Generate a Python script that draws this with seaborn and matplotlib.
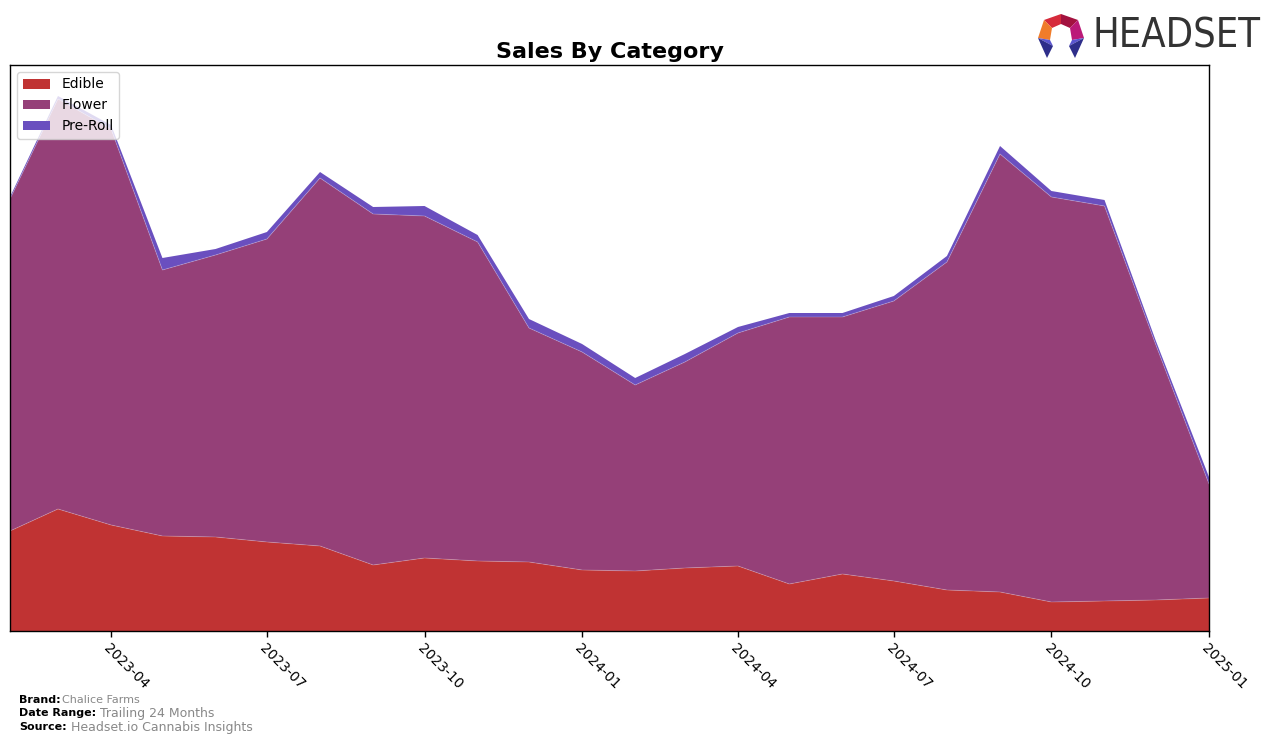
import pandas as pd
import numpy as np
import matplotlib
matplotlib.use("Agg")
import matplotlib.pyplot as plt
from matplotlib.patches import Polygon
import seaborn as sns

# monthly values (arbitrary units)
months = pd.date_range("2023-02-01", "2025-01-01", freq="MS")
edible = [100, 122, 106, 95, 94, 89, 85, 66, 73, 70, 69, 61,
          60, 63, 65, 47, 57, 50, 41, 39, 29, 30, 31, 33]
flower = [332, 410, 396, 266, 282, 303, 368, 351, 342, 319, 234, 218,
          186, 206, 233, 267, 257, 280, 328, 438, 405, 395, 255, 114]
preroll = [2, 3, 4, 12, 6, 7, 6, 7, 10, 7, 9, 8,
           7, 8, 6, 4, 4, 5, 6, 8, 6, 6, 4, 7]
categories = ["Edible", "Flower", "Pre-Roll"]
colors = ["#c03333", "#954078", "#6a4fbf"]

W, H = 1276, 743
sns.set_style("ticks", {"axes.edgecolor": "black", "xtick.color": "black",
                        "text.color": "black", "axes.labelcolor": "black"})
plt.rcParams["font.family"] = ["DejaVu Sans"]

fig = plt.figure(figsize=(W / 100, H / 100), dpi=100)
ax = fig.add_axes([10 / W, 1 - 631 / H, (1209 - 10) / W, (631 - 65) / H])

ax.stackplot(months, edible, flower, preroll, labels=categories, colors=colors,
             linewidth=0, edgecolor="none")

# faint seams between the layers
df = pd.DataFrame({"month": months, "Edible": edible, "Flower": flower, "Pre-Roll": preroll})
df["c1"] = df["Edible"]
df["c2"] = df["Edible"] + df["Flower"]
for col in ["c1", "c2"]:
    sns.lineplot(data=df, x="month", y=col, ax=ax, color="white", alpha=0.2, lw=0.7, legend=False)

ax.set_xlim(months[0], months[-1])
ax.set_ylim(0, 566)
ax.set_yticks([])
ax.set_xlabel("")
ax.set_ylabel("")
ticks = pd.date_range("2023-04-01", "2025-01-01", freq="QS")
ax.set_xticks(ticks)
ax.set_xticklabels([t.strftime("%Y-%m") for t in ticks], rotation=-45, ha="left",
                   rotation_mode="anchor", fontsize=10, color="black")
ax.tick_params(axis="x", length=4, width=1, direction="out")
for s in ax.spines.values():
    s.set_visible(True)
    s.set_color("black")
    s.set_linewidth(1)

ax.set_title("Sales By Category", fontsize=16, fontweight="bold", pad=5, color="black")
leg = ax.legend(loc="upper left", fontsize=10, frameon=True)
for t in leg.get_texts():
    t.set_color("black")


def fx(x):
    return x / W


def fy(y):
    return 1 - y / H


def poly(pts, c):
    fig.patches.append(Polygon([(fx(px), fy(py)) for px, py in pts], closed=True,
                               transform=fig.transFigure, color=c, lw=0))


# logo
fig.canvas.draw()
renderer = fig.canvas.get_renderer()
logo = fig.text(fx(1092), fy(37), "HEADSET", fontsize=30, color="#333333", va="center", ha="left",
                family="DejaVu Sans", fontstretch="condensed")
w = logo.get_window_extent(renderer).width
logo.set_fontsize(30 * 168 / w)

poly([(1044, 20), (1061, 14), (1061, 24), (1052, 28)], "#d62b3b")
poly([(1061, 14), (1078, 20), (1070, 28), (1061, 24)], "#a3123f")
poly([(1044, 20), (1038, 38), (1050, 40), (1052, 28)], "#f07c2a")
poly([(1078, 20), (1084, 38), (1072, 40), (1070, 28)], "#bb1a78")
for sgn in [1, -1]:
    m = lambda x: 1061 + sgn * (x - 1061)
    poly([(m(1038), 38), (m(1050), 40), (m(1053), 46)], "#5a55d0")
    poly([(m(1038), 38), (m(1053), 46), (m(1047), 58)], "#2e2e8a")

# footer
footer = [("Brand:", "Chalice Farms", 700, 8), ("Date Range:", "Trailing 24 Months", 713, 9),
          ("Source:", "Headset.io Cannabis Insights", 727, 9)]
for lab, val, y, vs in footer:
    t = fig.text(fx(19), fy(y), lab, fontsize=8, fontweight="bold", va="center", ha="left")
    bb = t.get_window_extent(renderer)
    fig.text(bb.x1 / W + (1 / W if vs == 8 else 4 / W), fy(y), val, fontsize=vs, color="#888888",
             va="center", ha="left")

fig.savefig("out.png", dpi=100)
